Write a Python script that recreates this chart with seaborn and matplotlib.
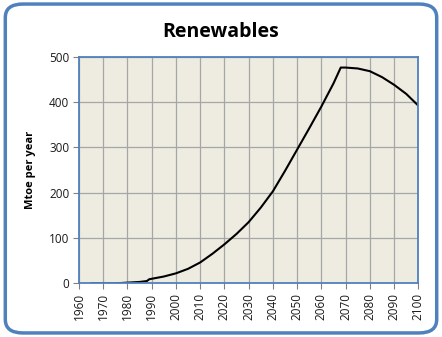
import matplotlib
matplotlib.use("Agg")
import matplotlib.pyplot as plt
from matplotlib.patches import FancyBboxPatch
import seaborn as sns
import pandas as pd

years = [1965, 1970, 1975, 1980, 1985, 1988, 1989, 1992, 1995, 2000, 2005, 2010, 2015, 2020,
         2025, 2030, 2035, 2040, 2045, 2050, 2055, 2060, 2065, 2068, 2070, 2075, 2080,
         2085, 2090, 2095, 2100]
values = [0, 0, 0, 1.5, 3, 5, 9, 12, 15, 22, 32, 46, 65, 86,
          109, 135, 167, 203, 248, 295, 342, 390, 441, 476, 476, 474, 468,
          455, 438, 418, 392]
title = "Renewables"
ylabel = "Mtoe per year"
xticks = list(range(1960, 2101, 10))
yticks = [0, 100, 200, 300, 400, 500]

df = pd.DataFrame({"year": years, "value": values})

sns.set_theme(style="white")
plt.rcParams["font.family"] = ["Open Sans", "DejaVu Sans"]

fig = plt.figure(figsize=(4.42, 3.37), dpi=100)
fig.patch.set_facecolor("white")
frame = FancyBboxPatch((0.012, 0.012), 0.976, 0.976, boxstyle="round,pad=0,rounding_size=0.04",
                       transform=fig.transFigure, facecolor="none", edgecolor="#4F81BD",
                       linewidth=2.5, zorder=-1)
fig.patches.append(frame)

ax = fig.add_axes([0.1787, 0.1593, 0.7677, 0.6725])
ax.set_facecolor("#EEECE1")
sns.lineplot(data=df, x="year", y="value", ax=ax, color="black", linewidth=1.5)

ax.set_xlim(1960, 2100)
ax.set_ylim(0, 500)
ax.set_xticks(xticks)
ax.set_yticks(yticks)
ax.set_xticklabels([str(t) for t in xticks], rotation=90, fontsize=8.5, color="#1a1a1a")
ax.set_yticklabels([str(t) for t in yticks], fontsize=8.5, color="#1a1a1a")
ax.grid(True, color="#A6A6A6", linewidth=0.9)
ax.set_axisbelow(True)
for s in ax.spines.values():
    s.set_color("#4F81BD")
    s.set_linewidth(1.3)
ax.tick_params(axis="both", which="major", length=4, width=0.8, color="#808080",
               direction="out", bottom=True, left=True, pad=3)
ax.set_xlabel("")
ax.set_ylabel(ylabel, fontsize=8, fontweight="bold", labelpad=9, color="black")
fig.text(0.5, 0.905, title, ha="center", va="center", fontsize=14, fontweight="bold",
         color="black")

fig.savefig("out.png", dpi=100)
